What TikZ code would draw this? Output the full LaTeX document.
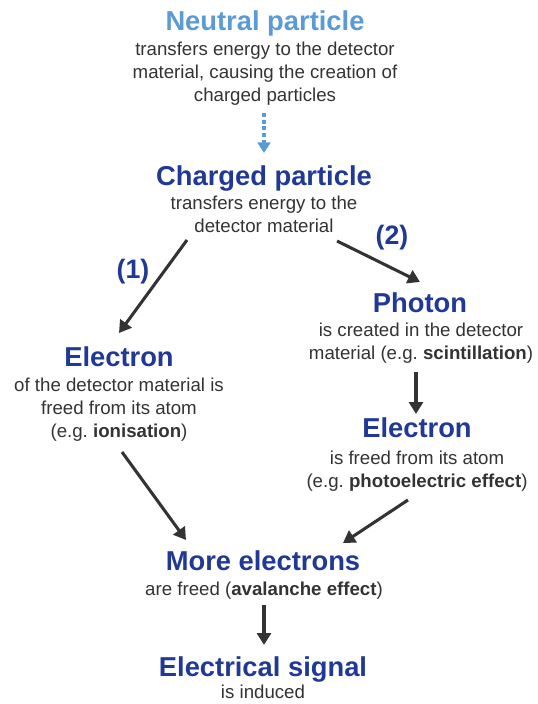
\documentclass[tikz,border=0pt]{standalone}
\usepackage{fontspec}
\setmainfont{Liberation Sans}
\usetikzlibrary{positioning, arrows.meta, calc}
\frenchspacing

\definecolor{titleblue}{RGB}{32,56,150}
\definecolor{neutralblue}{RGB}{91,155,213}
\definecolor{bodygray}{RGB}{51,51,51}

\tikzset{
  ttl/.style={font=\fontsize{20.5}{24}\selectfont\bfseries, text=titleblue, inner sep=0pt, anchor=base},
  txt/.style={font=\fontsize{14}{17.25}\selectfont, text=bodygray, align=center, inner sep=0pt, anchor=base},
  num/.style={font=\fontsize{20}{24}\selectfont\bfseries, text=titleblue, inner sep=0pt},
  arr/.style={draw=bodygray, line width=2.3pt, -{Triangle[length=9pt, width=10.5pt]}},
  dotarr/.style={draw=neutralblue, line width=3pt, dash pattern=on 3pt off 2pt,
    -{Triangle[length=8pt, width=9.5pt]}}
}

\begin{document}
\begin{tikzpicture}[x=0.75pt, y=-0.75pt]
  \useasboundingbox (0,0) rectangle (538,704);

  % neutral particle (text nodes sit on the baseline of their last line)
  \node[ttl, text=neutralblue] (neutral) at (265,30) {Neutral particle};
  \node[txt] (neutraltxt) at (265,101) {transfers energy to the detector\\material, causing the creation of\\charged particles};

  % charged particle
  \node[ttl] (charged) at (264,185) {Charged particle};
  \node[txt] (chargedtxt) at (264,232) {transfers energy to the\\detector material};
  \node[num] (one) at (133,272) {(1)};
  \node[num] (two) at (392,238) {(2)};

  % branch (1)
  \node[ttl] (eleft) at (119,366) {Electron};
  \node[txt] (elefttxt) at (119,437) {of the detector material is\\freed from its atom\\(e.g. \textbf{ionisation})};

  % branch (2)
  \node[ttl] (photon) at (420,312) {Photon};
  \node[txt] (photontxt) at (421,359) {is created in the detector\\material (e.g. \textbf{scintillation})};
  \node[ttl] (eright) at (417,437) {Electron};
  \node[txt] (erighttxt) at (417,487) {is freed from its atom\\(e.g. \textbf{photoelectric effect})};

  % avalanche and signal
  \node[ttl] (more) at (263,570) {More electrons};
  \node[txt] (moretxt) at (264,595) {are freed (\textbf{avalanche effect})};
  \node[ttl] (signal) at (263,676) {Electrical signal};
  \node[txt] (signaltxt) at (263,698) {is induced};

  % connectors
  \draw[dotarr] ($(neutral.base)+(-1,83)$) -- ($(charged.base)+(0,-32)$);
  \draw[arr] ($(charged.base)+(-77,55)$) -- ($(eleft.base)+(0,-33)$);
  \draw[arr] ($(charged.base)+(73,56)$) -- ($(photon.base)+(0,-30)$);
  \draw[arr] ($(photon.base)+(-4,60)$) -- ($(eright.base)+(-1,-23)$);
  \draw[arr] ($(eleft.base)+(3,86)$) -- ($(more.base)+(-77,-30)$);
  \draw[arr] ($(eright.base)+(-9,63)$) -- ($(more.base)+(80,-27)$);
  \draw[arr] ($(more.base)+(1,35)$) -- ($(signal.base)+(1,-31)$);
\end{tikzpicture}
\end{document}
